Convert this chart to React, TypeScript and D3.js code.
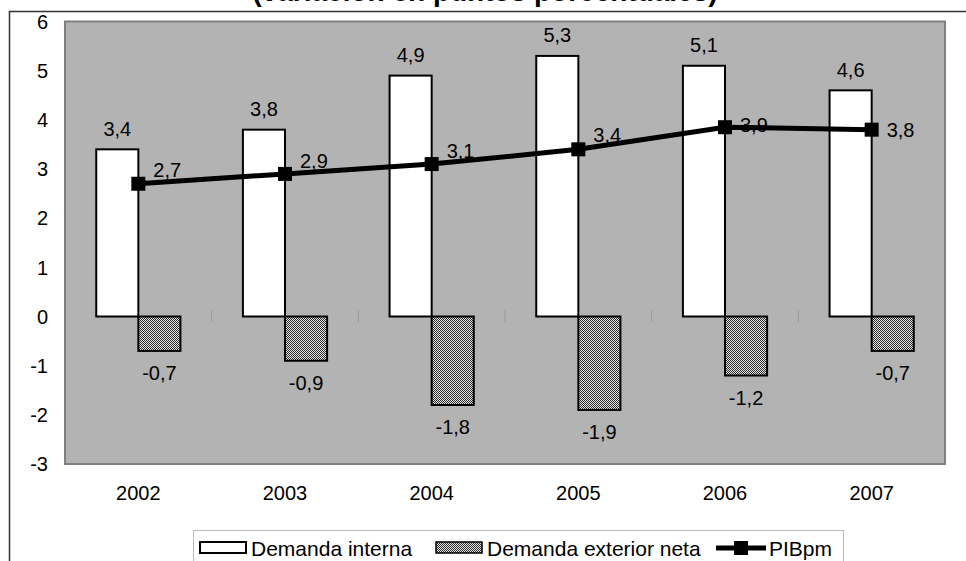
import React from "react";
import * as d3 from "d3";

// Chart data.
const years = ["2002", "2003", "2004", "2005", "2006", "2007"];
const demandaInterna = [3.4, 3.8, 4.9, 5.3, 5.1, 4.6];
const demandaExterior = [-0.7, -0.9, -1.8, -1.9, -1.2, -0.7];
const pibpm = [2.7, 2.9, 3.1, 3.4, 3.85, 3.8];
const pibLabels = ["2,7", "2,9", "3,1", "3,4", "3,9", "3,8"];
const yTicks = [-3, -2, -1, 0, 1, 2, 3, 4, 5, 6];

// vertical nudges for the PIBpm data labels (the source moved a few by hand)
const pibLabelDy = [-14, -13, -13, -15, -2, 0];

const W = 966;
const H = 561;
const FONT = "'Liberation Sans', Arial, sans-serif";

const fmt = (v: number): string => v.toFixed(1).replace(".", ",");

export default function App(): React.ReactElement {
    const plot = { left: 65, right: 945, top: 21.5, bottom: 464 };

    const x = d3.scaleBand<string>().domain(years).range([plot.left, plot.right]);
    const y = d3.scaleLinear().domain([-3, 6]).range([plot.bottom, plot.top]);
    const barW = x.bandwidth() * 0.287;
    const cx = (yr: string): number => (x(yr) ?? 0) + x.bandwidth() / 2;

    const line = d3.line<number>()
        .x((_, i) => cx(years[i]))
        .y((d) => y(d));

    const boundaries = years.slice(1).map((yr) => x(yr) ?? 0);

    return (
        <svg width={W} height={H} style={{ position: "absolute", left: 0, top: 0 }}
            fontFamily={FONT}>
            <defs>
                <pattern id="dots" width={2} height={2} patternUnits="userSpaceOnUse">
                    <rect width={2} height={2} fill="#e8e8e8" />
                    <rect x={0} y={0} width={1} height={1} fill="#2a2a2a" />
                    <rect x={1} y={1} width={1} height={1} fill="#2a2a2a" />
                </pattern>
            </defs>
            <rect width={W} height={H} fill="#fff" />

            {/* title, mostly cut off at the top */}
            <text x={485} y={1} textAnchor="middle" fontSize={28} fontWeight="bold" fill="#000">
                (variación en puntos porcentuales)
            </text>

            {/* outer chart frame */}
            <path d={`M9.5,${H}V11.5H${W}`} fill="none" stroke="#333" strokeWidth={1.5} />

            {/* plot area */}
            <rect x={plot.left} y={plot.top} width={plot.right - plot.left}
                height={plot.bottom - plot.top} fill="#b3b3b3" stroke="#808080" strokeWidth={2} />

            {/* category ticks on the zero line */}
            {boundaries.map((bx) => (
                <line key={bx} x1={bx} x2={bx} y1={y(0) - 6} y2={y(0) + 6}
                    stroke="#999" strokeWidth={1} />
            ))}

            {/* y axis labels */}
            {yTicks.map((t) => (
                <text key={t} x={48} y={y(t)} dy="0.36em" textAnchor="end" fontSize={20}>
                    {t}
                </text>
            ))}

            {/* x axis labels */}
            {years.map((yr) => (
                <text key={yr} x={cx(yr)} y={493} dy="0.36em" textAnchor="middle" fontSize={20}>
                    {yr}
                </text>
            ))}

            {/* Demanda interna bars */}
            {demandaInterna.map((v, i) => {
                const c = cx(years[i]);
                return (
                    <g key={"di" + i}>
                        <rect x={c - barW} y={y(v)} width={barW} height={y(0) - y(v)}
                            fill="#fff" stroke="#000" strokeWidth={2} />
                        <text x={c - barW / 2} y={y(v) - 21} dy="0.36em" textAnchor="middle" fontSize={20}>
                            {fmt(v)}
                        </text>
                    </g>
                );
            })}

            {/* Demanda exterior neta bars */}
            {demandaExterior.map((v, i) => {
                const c = cx(years[i]);
                return (
                    <g key={"de" + i}>
                        <rect x={c} y={y(0)} width={barW} height={y(v) - y(0)}
                            fill="url(#dots)" stroke="#000" strokeWidth={2} />
                        <text x={c + barW / 2} y={y(v) + 22} dy="0.36em" textAnchor="middle" fontSize={20}>
                            {fmt(v)}
                        </text>
                    </g>
                );
            })}

            {/* PIBpm line */}
            <path d={line(pibpm) ?? ""} fill="none" stroke="#000" strokeWidth={5} />
            {pibpm.map((v, i) => (
                <g key={"p" + i}>
                    <rect x={cx(years[i]) - 7} y={y(v) - 7} width={14} height={14} fill="#000" />
                    <text x={cx(years[i]) + 15} y={y(v) + pibLabelDy[i]} dy="0.36em" fontSize={20}>
                        {pibLabels[i]}
                    </text>
                </g>
            ))}

            {/* legend */}
            <g fontSize={21}>
                <rect x={193.5} y={530.5} width={650} height={40} fill="#fff" stroke="#bbb" strokeWidth={1} />
                <rect x={200} y={542} width={46} height={11} fill="#fff" stroke="#000" strokeWidth={2} />
                <text x={251} y={548} dy="0.36em">Demanda interna</text>
                <rect x={436} y={542} width={46} height={11} fill="url(#dots)" stroke="#000" strokeWidth={1.5} />
                <text x={487} y={548} dy="0.36em">Demanda exterior neta</text>
                <line x1={716} x2={766} y1={548} y2={548} stroke="#000" strokeWidth={5} />
                <rect x={734} y={541} width={14} height={14} fill="#000" />
                <text x={769} y={548} dy="0.36em">PIBpm</text>
            </g>
        </svg>
    );
}
